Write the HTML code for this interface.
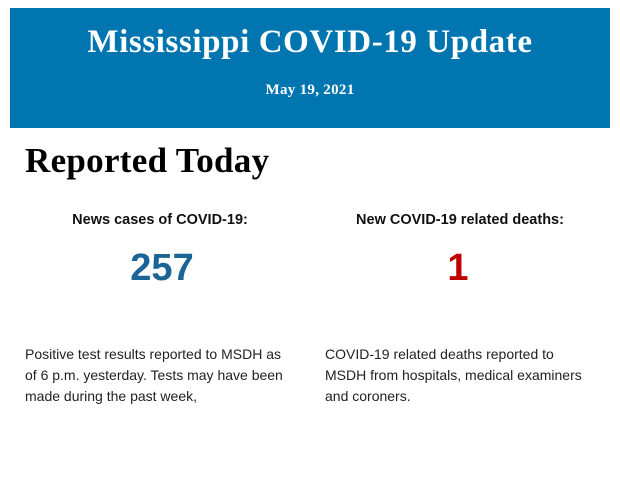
<!DOCTYPE html>
<html><head><style>
body{margin:0;width:620px;height:483px;background:#fff;position:relative;overflow:hidden}
.hdr{position:absolute;left:10px;top:8px;width:600px;height:120px;background:#0075b0;color:#fff;font-family:"Liberation Serif",serif;font-weight:bold;text-align:center}
.t{position:absolute;left:0;right:0;top:16px;font-size:33px;letter-spacing:0.6px}
.d{position:absolute;left:0;right:0;top:74px;font-size:15px;letter-spacing:0.3px}
h2{position:absolute;left:25px;top:141px;margin:0;font-family:"Liberation Serif",serif;font-size:35px;font-weight:bold;color:#000;letter-spacing:0.3px}
.lab{position:absolute;width:300px;text-align:center;top:212px;font-family:"Liberation Sans",sans-serif;font-weight:bold;font-size:14.5px;color:#111}
.num{position:absolute;width:300px;text-align:center;top:247px;font-family:"Liberation Sans",sans-serif;font-weight:bold;font-size:38px}
.p{position:absolute;top:344px;width:265px;font-family:"Liberation Sans",sans-serif;font-size:14px;line-height:21px;color:#222}
</style></head><body>
<div class="hdr"><div class="t">Mississippi COVID-19 Update</div><div class="d">May 19, 2021</div></div>
<h2>Reported Today</h2>
<div class="lab" style="left:10px">News cases of COVID-19:</div>
<div class="lab" style="left:310px">New COVID-19 related deaths:</div>
<div class="num" style="left:12px;color:#1a6496">257</div>
<div class="num" style="left:308px;color:#c00000">1</div>
<div class="p" style="left:25px">Positive test results reported to MSDH as of 6 p.m. yesterday. Tests may have been made during the past week,</div>
<div class="p" style="left:325px;width:270px">COVID-19 related deaths reported to MSDH from hospitals, medical examiners and coroners.</div>
</body></html>
